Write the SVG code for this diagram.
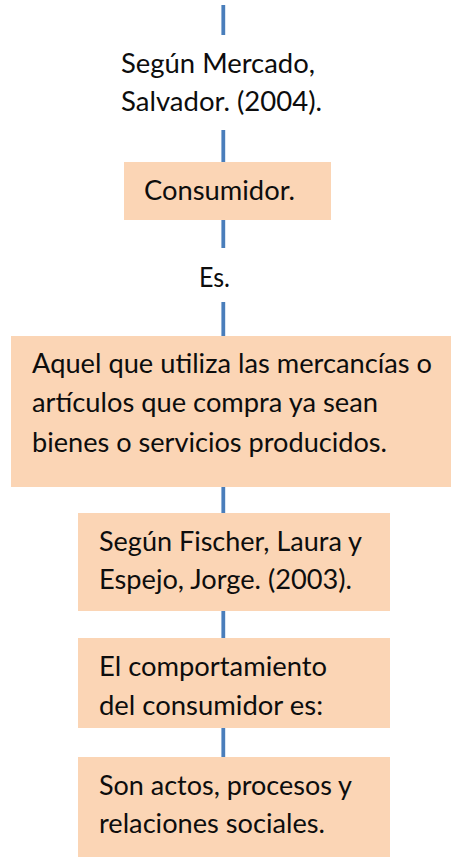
<svg xmlns="http://www.w3.org/2000/svg" width="451" height="857" viewBox="0 0 451 857">
<style>
.box{fill:#FBD5B5;}
.con{stroke:#4A7EBB;stroke-width:3.8;fill:none;}
text{font-family:Lato,"Open Sans","Liberation Sans",sans-serif;font-size:27px;fill:#0d0d0d;}
</style>
<rect width="451" height="857" fill="#ffffff"/>
<g id="connectors">
<line class="con" x1="223.3" y1="5" x2="223.3" y2="35"/>
<line class="con" x1="223.3" y1="130" x2="223.3" y2="162"/>
<line class="con" x1="223.3" y1="220" x2="223.3" y2="248"/>
<line class="con" x1="223.3" y1="302" x2="223.3" y2="336"/>
<line class="con" x1="223.3" y1="487" x2="223.3" y2="513"/>
<line class="con" x1="223.3" y1="611" x2="223.3" y2="638"/>
<line class="con" x1="223.3" y1="728" x2="223.3" y2="757"/>
</g>
<g id="label-mercado">
<text x="121" y="73" textLength="194" lengthAdjust="spacingAndGlyphs">Según Mercado,</text>
<text x="121" y="111" textLength="201" lengthAdjust="spacingAndGlyphs">Salvador. (2004).</text>
</g>
<g id="node-consumidor">
<rect class="box" x="124" y="162" width="207" height="58"/>
<text x="144" y="200" textLength="151" lengthAdjust="spacingAndGlyphs">Consumidor.</text>
</g>
<g id="label-es">
<text x="199" y="287" textLength="31" lengthAdjust="spacingAndGlyphs">Es.</text>
</g>
<g id="node-aquel">
<rect class="box" x="11" y="336" width="440" height="151"/>
<text x="32" y="373" textLength="400" lengthAdjust="spacingAndGlyphs">Aquel que utiliza las mercancías o</text>
<text x="32" y="412" textLength="346" lengthAdjust="spacingAndGlyphs">artículos que compra ya sean</text>
<text x="32" y="452" textLength="355" lengthAdjust="spacingAndGlyphs">bienes o servicios producidos.</text>
</g>
<g id="node-fischer">
<rect class="box" x="78" y="513" width="312" height="98"/>
<text x="99" y="551" textLength="263" lengthAdjust="spacingAndGlyphs">Según Fischer, Laura y</text>
<text x="99" y="589" textLength="253" lengthAdjust="spacingAndGlyphs">Espejo, Jorge. (2003).</text>
</g>
<g id="node-comportamiento">
<rect class="box" x="78" y="638" width="312" height="90"/>
<text x="99" y="676" textLength="228" lengthAdjust="spacingAndGlyphs">El comportamiento</text>
<text x="99" y="715" textLength="224" lengthAdjust="spacingAndGlyphs">del consumidor es:</text>
</g>
<g id="node-actos">
<rect class="box" x="78" y="757" width="312" height="100"/>
<text x="99" y="795" textLength="253" lengthAdjust="spacingAndGlyphs">Son actos, procesos y</text>
<text x="99" y="833" textLength="226" lengthAdjust="spacingAndGlyphs">relaciones sociales.</text>
</g>
</svg>
